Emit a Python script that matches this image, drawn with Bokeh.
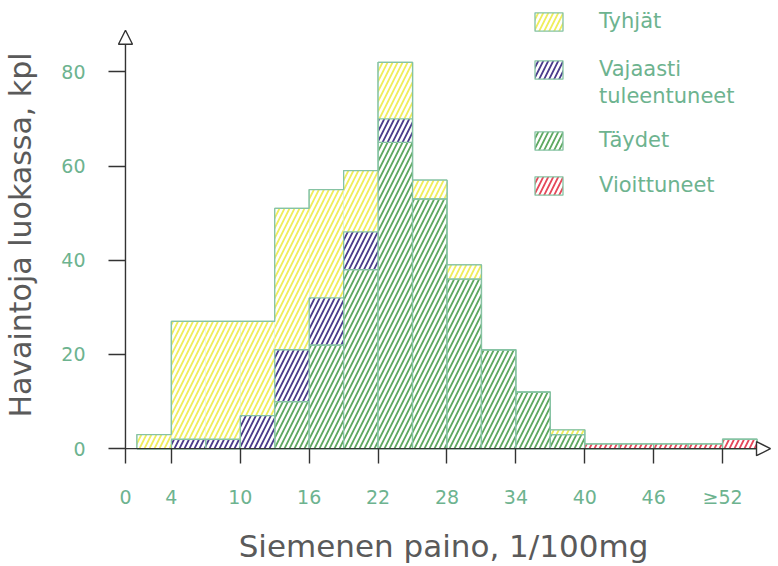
import numpy as np
from bokeh.plotting import figure
from bokeh.models import (Range1d, FixedTicker, Legend, LegendItem, Arrow, NormalHead,
                          ColumnDataSource)
from bokeh.embed import file_html
from bokeh.resources import INLINE

# ---- data ----
bin_start = [1, 4, 7, 10, 13, 16, 19, 22, 25, 28, 31, 34, 37, 40, 43, 46, 49, 52]
bin_width = 3
taydet = [0, 0, 0, 0, 10, 22, 38, 65, 53, 36, 21, 12, 3, 0, 0, 0, 0, 0]
vajaasti = [0, 2, 2, 7, 11, 10, 8, 5, 0, 0, 0, 0, 0, 0, 0, 0, 0, 0]
tyhjat = [3, 25, 25, 20, 30, 23, 13, 12, 4, 3, 0, 0, 1, 0, 0, 0, 0, 0]
vioittuneet = [0, 0, 0, 0, 0, 0, 0, 0, 0, 0, 0, 0, 0, 1, 1, 1, 1, 2]

x_ticks = [0, 4, 10, 16, 22, 28, 34, 40, 46, 52]
x_tick_labels = {52: "≥52"}
y_ticks = [0, 20, 40, 60, 80]

labels = ["Tyhjät", "Vajaasti", "tuleentuneet", "Täydet", "Vioittuneet"]

# ---- styling ----
FONT = "DejaVu Sans"
TICK_COLOR = "#6db38f"
LABEL_COLOR = "#5a5a5a"
AXIS_COLOR = "#333333"
OUTLINE = "#86c3a3"
C_YELLOW = "#f0ee5c"
C_PURPLE = "#4a3d8c"
C_GREEN = "#5fa860"
C_RED = "#e5485a"

# pixel geometry (page): x=0 at 124 px, 11.5 px/unit; y=0 at 453 px, 4.7625 px/unit
W, H = 778, 566
FRAME_L, FRAME_B, FRAME_T, FRAME_R = 107, 468, 6, 778
SX, SY = 11.5, 4.7625
x0 = (FRAME_L - 124) / SX
x1 = (FRAME_R - 124) / SX
y0 = -(FRAME_B - 453) / SY
y1 = (453 - FRAME_T) / SY

starts = np.array(bin_start, dtype=float)
centers = starts + bin_width / 2
g = np.array(taydet, dtype=float)
v = np.array(vajaasti, dtype=float)
t = np.array(tyhjat, dtype=float)
r = np.array(vioittuneet, dtype=float)

p = figure(width=W, height=H, output_backend="svg", toolbar_location=None,
           x_range=Range1d(x0, x1), y_range=Range1d(y0, y1),
           min_border_left=FRAME_L, min_border_bottom=H - FRAME_B,
           min_border_top=FRAME_T, min_border_right=W - FRAME_R)
p.outline_line_color = None
p.xgrid.visible = False
p.ygrid.visible = False
p.background_fill_color = "white"
p.border_fill_color = "white"

hatch_common = dict(hatch_pattern="right_diagonal_line", hatch_scale=10,
                    hatch_weight=1.8, fill_color="white")

# yellow (top) segments: outlined copy underneath (used by the legend),
# non-outlined copy on top so no inner bin borders show in the yellow area
src_y = ColumnDataSource(dict(x=centers, bottom=g + v, top=g + v + t))
leg_y = p.vbar(x="x", width=bin_width, bottom="bottom", top="top", source=src_y,
               line_color=OUTLINE, line_width=1.3, hatch_color=C_YELLOW, **hatch_common)
ry = p.vbar(x="x", width=bin_width, bottom="bottom", top="top", source=src_y,
            line_color=None, hatch_color=C_YELLOW, **hatch_common)

src_g = ColumnDataSource(dict(x=centers, bottom=np.zeros_like(g), top=g))
rg = p.vbar(x="x", width=bin_width, bottom="bottom", top="top", source=src_g,
            line_color=OUTLINE, line_width=1.3, hatch_color=C_GREEN, **hatch_common)

src_v = ColumnDataSource(dict(x=centers, bottom=g, top=g + v))
rv = p.vbar(x="x", width=bin_width, bottom="bottom", top="top", source=src_v,
            line_color=OUTLINE, line_width=1.3, hatch_color=C_PURPLE, **hatch_common)

src_r = ColumnDataSource(dict(x=centers, bottom=np.zeros_like(r), top=r))
rr = p.vbar(x="x", width=bin_width, bottom="bottom", top="top", source=src_r,
            line_color=OUTLINE, line_width=1.3, hatch_color=C_RED, **hatch_common)

# envelope of the stacked histogram
total = g + v + t + r
edges = np.append(starts, starts[-1] + bin_width)
env_x = np.concatenate([[edges[0]], np.repeat(edges[1:-1], 2), [edges[-1]]])
env_y = np.repeat(total, 2)
p.line(np.concatenate([[edges[0]], env_x, [edges[-1]]]),
       np.concatenate([[0], env_y, [0]]), line_color=OUTLINE, line_width=1.3)

# empty renderer: legend line without a swatch (second line of a label)
blank = p.vbar(x=[], width=1, top=[], line_color=None, fill_color=None)

# axes: sit on the frame edges, ticks drawn inwards up to the data axes
for ax in (p.xaxis[0], p.yaxis[0]):
    ax.axis_line_color = None
    ax.major_tick_line_color = AXIS_COLOR
    ax.major_tick_line_width = 1.4
    ax.minor_tick_line_color = None
    ax.major_tick_out = 0
    ax.major_label_text_color = TICK_COLOR
    ax.major_label_text_font = FONT
    ax.major_label_text_font_size = "19px"
    ax.axis_label_text_color = LABEL_COLOR
    ax.axis_label_text_font = FONT
    ax.axis_label_text_font_style = "normal"

p.xaxis.ticker = FixedTicker(ticks=x_ticks)
p.xaxis.major_label_overrides = x_tick_labels
p.xaxis.major_tick_in = FRAME_B - 453
p.xaxis.major_label_standoff = 22
p.xaxis.axis_label = "Siemenen paino, 1/100mg"
p.xaxis.axis_label_text_font_size = "31px"
p.xaxis.axis_label_standoff = 17

p.yaxis.ticker = FixedTicker(ticks=y_ticks)
p.yaxis.major_tick_in = 124 - FRAME_L
p.yaxis.major_label_standoff = 23
p.yaxis.axis_label = "Havaintoja luokassa, kpl"
p.yaxis.axis_label_text_font_size = "30px"
p.yaxis.axis_label_standoff = 20

# axis arrows
p.add_layout(Arrow(end=NormalHead(size=14, fill_color="white", line_color=AXIS_COLOR,
                                  line_width=1.4),
                   x_start=0, y_start=0, x_end=(770 - 124) / SX, y_end=0,
                   line_color=AXIS_COLOR, line_width=1.4))
p.add_layout(Arrow(end=NormalHead(size=14, fill_color="white", line_color=AXIS_COLOR,
                                  line_width=1.4),
                   x_start=0, y_start=0, x_end=0, y_end=(453 - 30) / SY,
                   line_color=AXIS_COLOR, line_width=1.4))

leg_style = dict(padding=0, margin=0, glyph_width=35, glyph_height=23,
                 label_standoff=33, label_height=23, border_line_color=None,
                 background_fill_alpha=0, label_text_font=FONT,
                 label_text_font_size="21px", label_text_color=TICK_COLOR)
LEG_X = 530 - FRAME_L
legend1 = Legend(items=[LegendItem(label=labels[0], renderers=[leg_y]),
                        LegendItem(label=labels[1], renderers=[rv])],
                 location=(LEG_X, FRAME_B - 86), spacing=24, **leg_style)
legend2 = Legend(items=[LegendItem(label=labels[2], renderers=[blank])],
                 location=(LEG_X, FRAME_B - 113), spacing=0, **leg_style)
legend3 = Legend(items=[LegendItem(label=labels[3], renderers=[rg]),
                        LegendItem(label=labels[4], renderers=[rr])],
                 location=(LEG_X, FRAME_B - 202), spacing=21, **leg_style)
for lg in (legend1, legend2, legend3):
    p.add_layout(lg)

open("out.html", "w").write(file_html(p, INLINE))
